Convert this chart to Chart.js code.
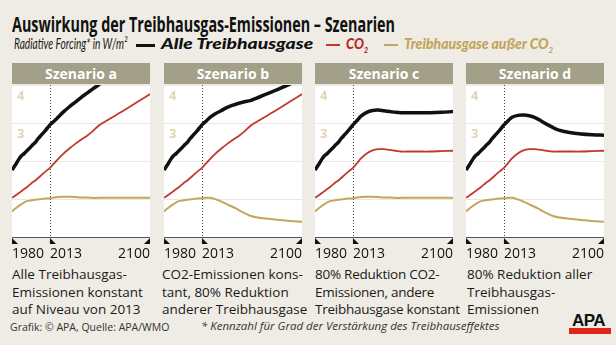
<!DOCTYPE html>
<html>
<head>
<meta charset="utf-8">
<script src="https://cdn.jsdelivr.net/npm/chart.js@4"></script>
<style>
  body { margin: 0; background: #eeece4; width: 616px; height: 345px; overflow: hidden; position: relative; font-family: "Open Sans", sans-serif; color: #1a1a1a; }
  .abs { position: absolute; white-space: nowrap; }
  .fit { display: inline-block; transform-origin: 0 50%; }
  #title { left: 12px; top: 10px; font: bold 21px "Liberation Sans Narrow", "Open Sans", sans-serif; color: #111; }
  .leg { top: 34px; font: italic 15px/19px Lato, "Open Sans", sans-serif; }
  .leg sub { font-size: 8px; }
  .dash { position: absolute; top: 44px; height: 3px; }
  .head { position: absolute; top: 63px; width: 138px; height: 21px; background: #a2a089; color: #fff; font-weight: bold; font-size: 14px; line-height: 21px; text-align: center; }
  canvas { position: absolute; top: 85px; }
  .desc { position: absolute; top: 266px; font-size: 13.5px; line-height: 17.5px; color: #1a1a1a; }
  #src { left: 10px; top: 320px; font-size: 10.5px; color: #333; }
  #note { left: 201px; top: 318px; font-size: 11.5px; font-style: italic; color: #333; }
  #logo { left: 572px; top: 311px; font: bold 17px "Liberation Sans", sans-serif; color: #111; letter-spacing: -0.5px; }
  #logobar { position: absolute; left: 569px; top: 328px; width: 42px; height: 6px; background: #e2231a; }
</style>
</head>
<body>
<div id="title" class="abs"><span class="fit" data-w="383">Auswirkung der Treibhausgas-Emissionen – Szenarien</span></div>

<div class="abs leg" style="left:14px"><span class="fit" data-w="113">Radiative Forcing* in W/m²</span></div>
<div class="dash" style="left:136px;width:19px;background:#111"></div>
<div class="abs leg" style="left:161px;font-weight:900;color:#111"><span class="fit" data-w="152">Alle Treibhausgase</span></div>
<div class="dash" style="left:326px;width:14px;height:2px;background:#c0392b"></div>
<div class="abs leg" style="left:346px;font-weight:900;color:#b8281e"><span class="fit" data-w="22">CO<sub>2</sub></span></div>
<div class="dash" style="left:384px;width:14px;height:2px;background:#c4a75e"></div>
<div class="abs leg" style="left:404px;font-weight:900;color:#c2a55c"><span class="fit" data-w="149">Treibhausgase außer CO<sub>2</sub></span></div>

<div class="head" style="left:12px">Szenario a</div>
<div class="head" style="left:164px">Szenario b</div>
<div class="head" style="left:315px">Szenario c</div>
<div class="head" style="left:466px">Szenario d</div>

<canvas id="ca" width="138" height="180" style="left:12px"></canvas>
<canvas id="cb" width="138" height="180" style="left:164px"></canvas>
<canvas id="cc" width="138" height="180" style="left:315px"></canvas>
<canvas id="cd" width="138" height="180" style="left:466px"></canvas>

<div class="desc" style="left:12px">Alle Treibhausgas-<br>Emissionen konstant<br>auf Niveau von 2013</div>
<div class="desc" style="left:162px">CO2-Emissionen kons-<br>tant, 80% Reduktion<br>anderer Treibhausgase</div>
<div class="desc" style="left:315px;letter-spacing:-0.25px">80% Reduktion CO2-<br>Emissionen, andere<br>Treibhausgase konstant</div>
<div class="desc" style="left:467px">80% Reduktion aller<br>Treibhausgas-<br>Emissionen</div>

<div id="src" class="abs">Grafik: © APA, Quelle: APA/WMO</div>
<div id="note" class="abs">* Kennzahl für Grad der Verstärkung des Treibhauseffektes</div>
<div id="logo" class="abs">APA</div>
<div id="logobar"></div>

<script>
// years shared by every series
const years = [1980, 1983, 1986, 1988, 1990, 1992, 1994, 1996, 1998, 2000, 2003, 2006, 2009, 2013,
               2017, 2020, 2025, 2030, 2035, 2040, 2045, 2050, 2055, 2060, 2070, 2080, 2090, 2100];
const xTicks = [1980, 2013, 2100];
const yLabels = [4, 3];

// measured history 1980-2013
const histAll   = [1.76, 1.90, 2.05, 2.13, 2.18, 2.24, 2.30, 2.36, 2.43, 2.48, 2.60, 2.70, 2.80, 2.95];
const histCO2   = [1.03, 1.09, 1.16, 1.20, 1.25, 1.29, 1.34, 1.39, 1.44, 1.48, 1.56, 1.64, 1.72, 1.82];
const histOther = [0.67, 0.75, 0.82, 0.86, 0.90, 0.93, 0.95, 0.96, 0.97, 0.98, 0.99, 1.00, 1.01, 1.02];

// scenarios 2017-2100
const allA   = [3.06, 3.15, 3.30, 3.43, 3.55, 3.67, 3.78, 3.89, 4.00, 4.12, null, null, null, null];
const allB   = [3.06, 3.15, 3.25, 3.33, 3.41, 3.47, 3.52, 3.56, 3.59, 3.65, 3.77, 3.90, 4.03, null];
const allC   = [3.08, 3.18, 3.28, 3.33, 3.34, 3.32, 3.30, 3.28, 3.27, 3.27, 3.27, 3.27, 3.28, 3.30];
const allD   = [3.07, 3.15, 3.20, 3.21, 3.19, 3.14, 3.06, 2.97, 2.89, 2.82, 2.75, 2.71, 2.69, 2.68];
const co2Up  = [1.95, 2.05, 2.20, 2.33, 2.45, 2.56, 2.66, 2.78, 2.92, 3.02, 3.20, 3.38, 3.57, 3.76];
const co2Cut = [1.96, 2.07, 2.20, 2.28, 2.31, 2.31, 2.29, 2.27, 2.25, 2.25, 2.25, 2.25, 2.26, 2.27];
const otherUp  = [1.04, 1.05, 1.06, 1.06, 1.05, 1.04, 1.04, 1.03, 1.03, 1.03, 1.03, 1.03, 1.03, 1.03];
const otherCut = [1.03, 1.03, 0.99, 0.93, 0.86, 0.79, 0.71, 0.63, 0.56, 0.52, 0.48, 0.45, 0.42, 0.40];

const scenarios = [
  { id: 'ca', all: allA, co2: co2Up,  other: otherUp },
  { id: 'cb', all: allB, co2: co2Up,  other: otherCut },
  { id: 'cc', all: allC, co2: co2Cut, other: otherUp },
  { id: 'cd', all: allD, co2: co2Cut, other: otherCut }
];

const pts = (hist, future) => hist.concat(future).map((v, i) => ({ x: years[i], y: v }));

// white plot area, dotted line at 2013, axis with triangle marks and year labels
const decor = {
  id: 'decor',
  beforeDraw(chart) {
    const { ctx, chartArea: a } = chart;
    ctx.save();
    ctx.fillStyle = '#fff';
    ctx.fillRect(a.left, a.top, a.right - a.left, a.bottom - a.top);
    ctx.restore();
  },
  beforeDatasetsDraw(chart) {
    const { ctx, chartArea: a, scales: { x, y } } = chart;
    ctx.save();
    ctx.fillStyle = '#e2d3b3';
    ctx.font = 'bold 13px "Open Sans", sans-serif';
    ctx.textBaseline = 'middle';
    yLabels.forEach(v => ctx.fillText(String(v), a.left + 5, y.getPixelForValue(v) + 11));
    const px = Math.round(x.getPixelForValue(2013)) + 0.5;
    ctx.strokeStyle = '#444';
    ctx.lineWidth = 1;
    ctx.setLineDash([1, 2]);
    ctx.beginPath();
    ctx.moveTo(px, a.top);
    ctx.lineTo(px, a.bottom);
    ctx.stroke();
    ctx.restore();
  },
  afterDraw(chart) {
    const { ctx, chartArea: a, scales: { x } } = chart;
    ctx.save();
    ctx.strokeStyle = '#555';
    ctx.lineWidth = 1;
    ctx.beginPath();
    ctx.moveTo(a.left, a.bottom + 0.5);
    ctx.lineTo(a.right, a.bottom + 0.5);
    ctx.stroke();
    ctx.fillStyle = '#111';
    ctx.font = '14px "Open Sans", sans-serif';
    ctx.textBaseline = 'middle';
    xTicks.forEach((yr, i) => {
      const px = x.getPixelForValue(yr);
      const last = i === xTicks.length - 1;
      ctx.beginPath();
      if (last) {
        ctx.moveTo(px, a.bottom + 1); ctx.lineTo(px, a.bottom + 7); ctx.lineTo(px - 6, a.bottom + 7);
      } else {
        ctx.moveTo(px, a.bottom + 1); ctx.lineTo(px, a.bottom + 7); ctx.lineTo(px + 6, a.bottom + 7);
      }
      ctx.closePath();
      ctx.fill();
      ctx.textAlign = last ? 'right' : 'left';
      ctx.fillText(String(yr), px, a.bottom + 17);
    });
    ctx.restore();
  }
};

scenarios.forEach(s => {
  new Chart(document.getElementById(s.id), {
    type: 'line',
    data: {
      datasets: [
        { data: pts(histOther, s.other), borderColor: '#c4a75e', borderWidth: 2 },
        { data: pts(histCO2, s.co2), borderColor: '#c0392b', borderWidth: 1.8 },
        { data: pts(histAll, s.all), borderColor: '#111', borderWidth: 3.5 }
      ]
    },
    options: {
      responsive: false,
      animation: false,
      devicePixelRatio: 1,
      layout: { padding: { left: 0, right: 0, top: 0, bottom: 28 } },
      elements: { point: { radius: 0 }, line: { tension: 0.35, borderCapStyle: 'butt' } },
      plugins: { legend: { display: false }, tooltip: { enabled: false } },
      scales: {
        x: { type: 'linear', min: 1980, max: 2100, display: false },
        y: {
          min: 0, max: 4,
          ticks: { display: false, stepSize: 1 },
          grid: { color: '#ece8de', drawTicks: false },
          border: { display: false }
        }
      }
    },
    plugins: [decor]
  });
});

// squeeze headline texts to their set widths
document.querySelectorAll('.fit').forEach(el => {
  const w = +el.dataset.w;
  el.style.transform = 'scaleX(' + (w / el.offsetWidth) + ')';
});
</script>
</body>
</html>
